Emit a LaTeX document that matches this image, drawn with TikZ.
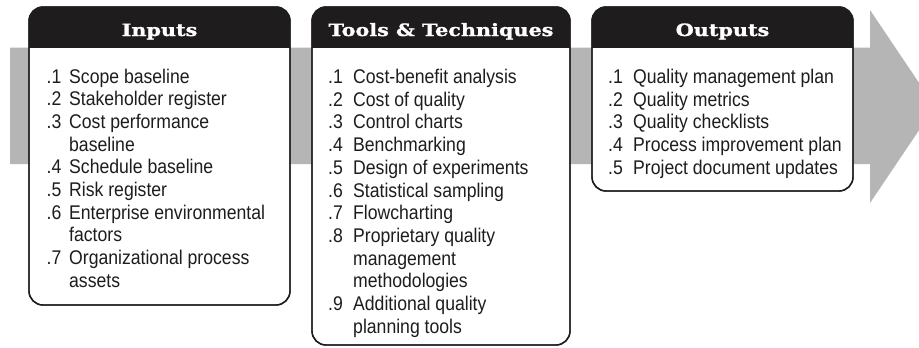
\documentclass[tikz,border=0pt]{standalone}
\usepackage{array}
\usepackage{fontspec}
\setmainfont[FakeStretch=0.89]{Liberation Sans}
\newfontfamily\headfont[FakeStretch=1.22,FakeBold=1.2]{DejaVu Serif}
\definecolor{arrowgray}{RGB}{181,181,181}
\definecolor{inkblack}{RGB}{30,28,28}
\newcolumntype{N}[1]{@{}p{#1}@{}}
\tikzset{
  procbox/.style={draw=inkblack, line width=1.4pt, rounded corners=14pt, fill=white, inner sep=0pt},
  headtext/.style={text=white, font={\headfont\bfseries\fontsize{17}{20}\selectfont}, anchor=base, inner sep=0pt},
  listtext/.style={text=inkblack, font={\fontsize{19.8}{22.7}\selectfont}, anchor=north west, inner sep=0pt, align=left},
}
\begin{document}
\begin{tikzpicture}[x=1pt,y=-1pt]
\useasboundingbox (0,0) rectangle (919,348);
\clip (0,0) rectangle (919,348);
% big arrow
\fill[arrowgray] (10,47.5) -- (870,47.5) -- (870,10) -- (935,106.5) -- (870,203) -- (870,164) -- (10,164) -- cycle;

% Inputs box
\node[procbox, minimum width=261pt, minimum height=298pt] (inbox) at (159.5,156) {};
\begin{scope}
\clip[rounded corners=14pt] (29,7) rectangle (290,305);
\fill[inkblack] (29,7) rectangle (290,48);
\end{scope}
\draw[inkblack, line width=1.4pt, rounded corners=14pt] (29,7) rectangle (290,305);
\node[headtext] (inhead) at (159.5,36) {Inputs};
\node[listtext] (inlist) at (46.5,67) {%
\begin{tabular}{N{22.5pt}l@{}}
.1 & Scope baseline\\
.2 & Stakeholder register\\
.3 & Cost performance\\
   & baseline\\
.4 & Schedule baseline\\
.5 & Risk register\\
.6 & Enterprise environmental\\
   & factors\\
.7 & Organizational process\\
   & assets
\end{tabular}};

% Tools box
\node[procbox, minimum width=258pt, minimum height=338pt] (toolbox) at (441,176) {};
\begin{scope}
\clip[rounded corners=14pt] (312,7) rectangle (570,345);
\fill[inkblack] (312,7) rectangle (570,48);
\end{scope}
\draw[inkblack, line width=1.4pt, rounded corners=14pt] (312,7) rectangle (570,345);
\node[headtext] (toolhead) at (441,36) {Tools \& Techniques};
\node[listtext] (toollist) at (328,67.5) {%
\begin{tabular}{N{25pt}l@{}}
.1 & Cost-benefit analysis\\
.2 & Cost of quality\\
.3 & Control charts\\
.4 & Benchmarking\\
.5 & Design of experiments\\
.6 & Statistical sampling\\
.7 & Flowcharting\\
.8 & Proprietary quality\\
   & management\\
   & methodologies\\
.9 & Additional quality\\
   & planning tools
\end{tabular}};

% Outputs box
\node[procbox, minimum width=261pt, minimum height=184pt] (outbox) at (722.5,99) {};
\begin{scope}
\clip[rounded corners=14pt] (592,7) rectangle (853,191);
\fill[inkblack] (592,7) rectangle (853,48);
\end{scope}
\draw[inkblack, line width=1.4pt, rounded corners=14pt] (592,7) rectangle (853,191);
\node[headtext] (outhead) at (722.5,36) {Outputs};
\node[listtext] (outlist) at (608,67.5) {%
\begin{tabular}{N{25pt}l@{}}
.1 & Quality management plan\\
.2 & Quality metrics\\
.3 & Quality checklists\\
.4 & Process improvement plan\\
.5 & Project document updates
\end{tabular}};
\end{tikzpicture}
\end{document}
